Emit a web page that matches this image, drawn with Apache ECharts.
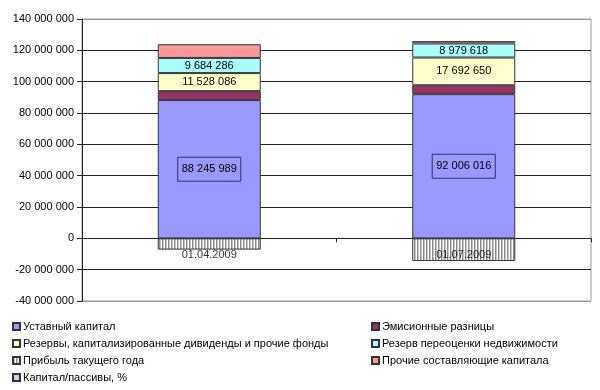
<!DOCTYPE html>
<html><head><meta charset="utf-8">
<script src="https://cdn.jsdelivr.net/npm/echarts@6/dist/echarts.min.js"></script>
<style>html,body{margin:0;padding:0;background:#fff}#c{width:600px;height:390px}</style>
</head><body><div id="c"></div>
<script>
var categories = ['01.04.2009', '01.07.2009'];
var ustavny = [88245989, 92006016];
var emission = [5700000, 5700000];
var reserves = [11528086, 17692650];
var revaluation = [9684286, 8979618];
var profit = [-7200000, -14500000];
var other = [8700000, 1500000];
var capRatio = [null, null];
var yTicks = { min: -40000000, max: 140000000, interval: 20000000 };

var names = ['Уставный капитал', 'Эмисионные разницы', 'Резервы, капитализированные дивиденды и прочие фонды',
  'Резерв переоценки недвижимости', 'Прибыль такущего года', 'Прочие составляющие капитала', 'Капитал/пассивы, %'];

function fmt(v) { return String(Math.round(v)).replace(/\B(?=(\d{3})+(?!\d))/g, ' '); }

var pc = document.createElement('canvas'); pc.width = 3; pc.height = 4;
var px = pc.getContext('2d');
px.fillStyle = '#ffffff'; px.fillRect(0, 0, 3, 4);
px.fillStyle = '#8c8c8c'; px.fillRect(0, 0, 1, 4);
px.fillStyle = '#c8c8c8'; px.fillRect(1, 0, 1, 4);

var font = 'Liberation Sans, Arial, sans-serif';
function bar(name, data, color, label) {
  return {
    name: name, type: 'bar', stack: 'a', data: data, barWidth: 103,
    itemStyle: { color: color, borderColor: '#333', borderWidth: 1 },
    label: label || { show: false }
  };
}
var plainLabel = { show: true, position: 'inside', color: '#000', fontFamily: font, fontSize: 11, formatter: function (p) { return fmt(p.value); } };
var boxLabel = { show: true, position: 'inside', color: '#000', fontFamily: font, fontSize: 11, borderColor: '#333366', borderWidth: 1, padding: [7, 4, 6, 4], formatter: function (p) { return fmt(p.value); } };

// legend placement: [name index, left, top]
var legendPos = [[0, 7, 316], [2, 7, 333], [4, 7, 350], [6, 7, 367], [1, 366, 316], [3, 366, 333], [5, 366, 350]];
var legends = legendPos.map(function (l) {
  return { data: [names[l[0]]], left: l[1], top: l[2], itemWidth: 7, itemHeight: 7, itemGap: 0, icon: 'rect',
    textStyle: { color: '#000', fontSize: 11, fontFamily: font, padding: [0, 0, 0, -2] } };
});

var chart = echarts.init(document.getElementById('c'), null, { renderer: 'canvas' });
var gridColors = ['#999', '#222', '#222', '#222', '#222', '#222', '#222', '#222', '#222', '#999'];
chart.setOption({
  animation: false,
  textStyle: { fontFamily: font },
  grid: { left: 82, right: 9, top: 19, bottom: 89, show: true, borderColor: '#999', borderWidth: 1 },
  xAxis: {
    type: 'category', data: categories,
    axisLine: { onZero: true, lineStyle: { color: '#222', width: 1 } },
    axisTick: { show: true, length: 4, lineStyle: { color: '#222' } },
    axisLabel: { show: false }
  },
  yAxis: {
    type: 'value', min: yTicks.min, max: yTicks.max, interval: yTicks.interval,
    axisLine: { show: true, lineStyle: { color: '#222' } },
    axisTick: { show: true, length: 5, lineStyle: { color: '#222' } },
    axisLabel: { color: '#000', fontSize: 11, margin: 8, fontFamily: font, formatter: fmt },
    splitLine: { show: true, lineStyle: { color: gridColors, width: 1 } }
  },
  legend: legends,
  series: [
    bar(names[0], ustavny, '#9999FF', boxLabel),
    bar(names[1], emission, '#993366'),
    bar(names[2], reserves, '#FFFFCC', plainLabel),
    bar(names[3], revaluation, '#A8FFFF', plainLabel),
    bar(names[4], profit, { image: pc, repeat: 'repeat' }),
    bar(names[5], other, '#FF9999'),
    bar(names[6], capRatio, '#CCCCFF'),
    {
      name: 'categoryLabels', type: 'scatter', symbolSize: 0, silent: true, z: 10,
      data: categories.map(function (c) { return [c, 0]; }),
      label: { show: true, position: 'bottom', distance: 11, color: '#000', fontSize: 11, fontFamily: font,
        formatter: function (p) { return p.value[0]; } }
    }
  ]
});
</script></body></html>
